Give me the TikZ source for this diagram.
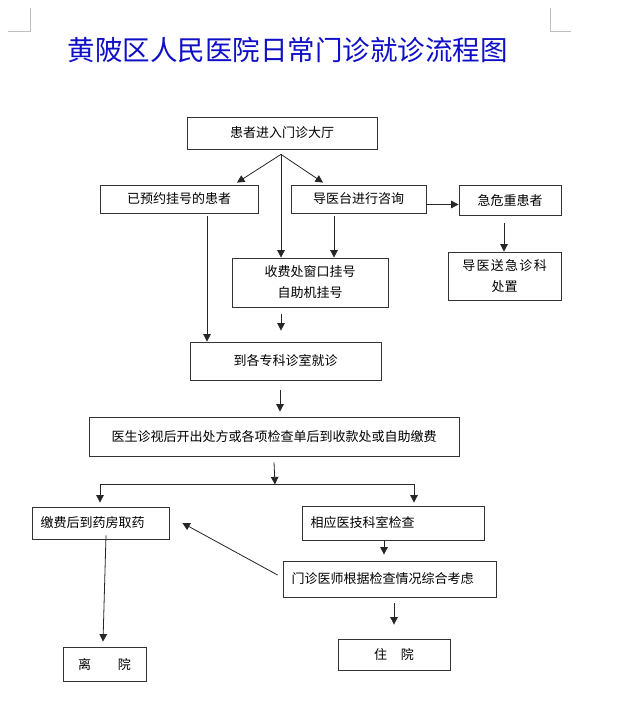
\documentclass[tikz,border=0pt]{standalone}
\usepackage{fontspec}
\newfontfamily\cjk{Noto Sans CJK SC}
\usetikzlibrary{arrows.meta,calc}
\definecolor{titleblue}{RGB}{15,15,200}
\begin{document}
\begin{tikzpicture}[x=1pt,y=-1pt,
  box/.style={draw=black!80, line width=0.8pt, inner sep=0pt, align=center,
    font=\cjk\fontsize{13pt}{21pt}\selectfont},
  lbox/.style={box, align=left, inner xsep=8.5pt},
  arr/.style={-{Triangle[length=7.5pt,width=7.5pt]}, line width=0.8pt, draw=black!85},
  corner/.style={draw=black!25, line width=0.8pt},
  titlestyle/.style={text=titleblue, font=\cjk\fontsize{27.5pt}{30pt}\selectfont, inner sep=0pt}
]
\useasboundingbox (0,0) rectangle (620,722);
\fill[white] (0,0) rectangle (620,722);
% page corner marks
\draw[corner] (8,31) -- (30,31) -- (30,8);
\draw[corner] (550,8) -- (550,31) -- (571,31);
% title
\node[titlestyle] (title) at (287.5,50.5) {黄陂区人民医院日常门诊就诊流程图};
% boxes
\node[box, minimum width=190pt, minimum height=32pt] (hall) at (282,133) {患者进入门诊大厅};
\node[box, minimum width=158pt, minimum height=28pt] (yy) at (179,199) {已预约挂号的患者};
\node[box, minimum width=135pt, minimum height=28pt] (dy) at (358.5,199) {导医台进行咨询};
\node[box, minimum width=102pt, minimum height=30pt] (jw) at (510,200.5) {急危重患者};
\node[box, minimum width=156pt, minimum height=49pt] (sf) at (310,282.5) {收费处窗口挂号\\自助机挂号};
\node[box, minimum width=113pt, minimum height=48pt] (dyjz) at (504.5,276) {导\hspace{1.3pt}医\hspace{1.3pt}送\hspace{1.3pt}急\hspace{1.3pt}诊\hspace{1.3pt}科\\处置};
\node[box, minimum width=191pt, minimum height=38pt] (zk) at (285.5,361) {到各专科诊室就诊};
\node[box, minimum width=370pt, minimum height=39pt] (ys) at (274,436.5) {医生诊视后开出处方或各项检查单后到收款处或自助缴费};
\node[lbox, text width=120pt, minimum height=32pt] (jf) at (100.5,523) {缴费后到药房取药};
\node[lbox, text width=165pt, minimum height=34pt] (xy) at (393,523) {相应医技科室检查};
\node[lbox, text width=196pt, minimum height=36pt] (mz) at (389.5,579) {门诊医师根据检查情况综合考虑};
\node[box, minimum width=83pt, minimum height=34pt] (ly) at (104.5,664) {离\hspace{27pt}院};
\node[box, minimum width=112pt, minimum height=31pt] (zy) at (394,654.5) {住\hspace{14pt}院};
% connectors
\coordinate (apex) at ($(hall.south)+(-1,5)$);
\draw[arr] (apex) -- ($(yy.north)+(58,-2)$);
\draw[arr] (apex) -- ($(dy.north)+(-35.5,-2)$);
\draw[arr] (apex) -- (apex |- sf.north);
\draw[arr] ($(dy.south)+(-24.5,3)$) -- ($(sf.north)+(24,0)$);
\draw[arr] ($(dy.east)+(0,5.5)$) -- ($(jw.west)+(0,4)$);
\draw[arr] ($(jw.south)+(-6,7)$) -- ($(dyjz.north)+(-0.5,0)$);
\draw[arr] ($(yy.south)+(28,3)$) -- ($(zk.north)+(-78.5,0)$);
\draw[arr] ($(sf.south)+(-29,7)$) -- ($(zk.north)+(-4.5,-11)$);
\draw[arr] ($(zk.south)+(-5.5,10)$) -- ($(ys.north)+(6,-5)$);
\coordinate (br) at ($(ys.south)+(1,28)$);
\draw[arr] ($(ys.south)+(0,6)$) -- (br);
\draw[arr] (br) -| ($(jf.north)+(-0.5,-4)$);
\draw[arr] (br) -| ($(xy.north)+(21,-3)$);
\draw[arr] ($(jf.south)+(5.5,-4)$) -- ($(ly.north)+(-1.5,-5)$);
\draw[arr] ($(mz.west)+(-5,-4)$) -- ($(jf.east)+(13,0)$);
\draw[arr] ($(xy.south)+(-9,0)$) -- ($(mz.north)+(-5.5,-6)$);
\draw[arr] ($(mz.south)+(4.5,6)$) -- ($(zy.north)+(0,-14)$);
\end{tikzpicture}
\end{document}
